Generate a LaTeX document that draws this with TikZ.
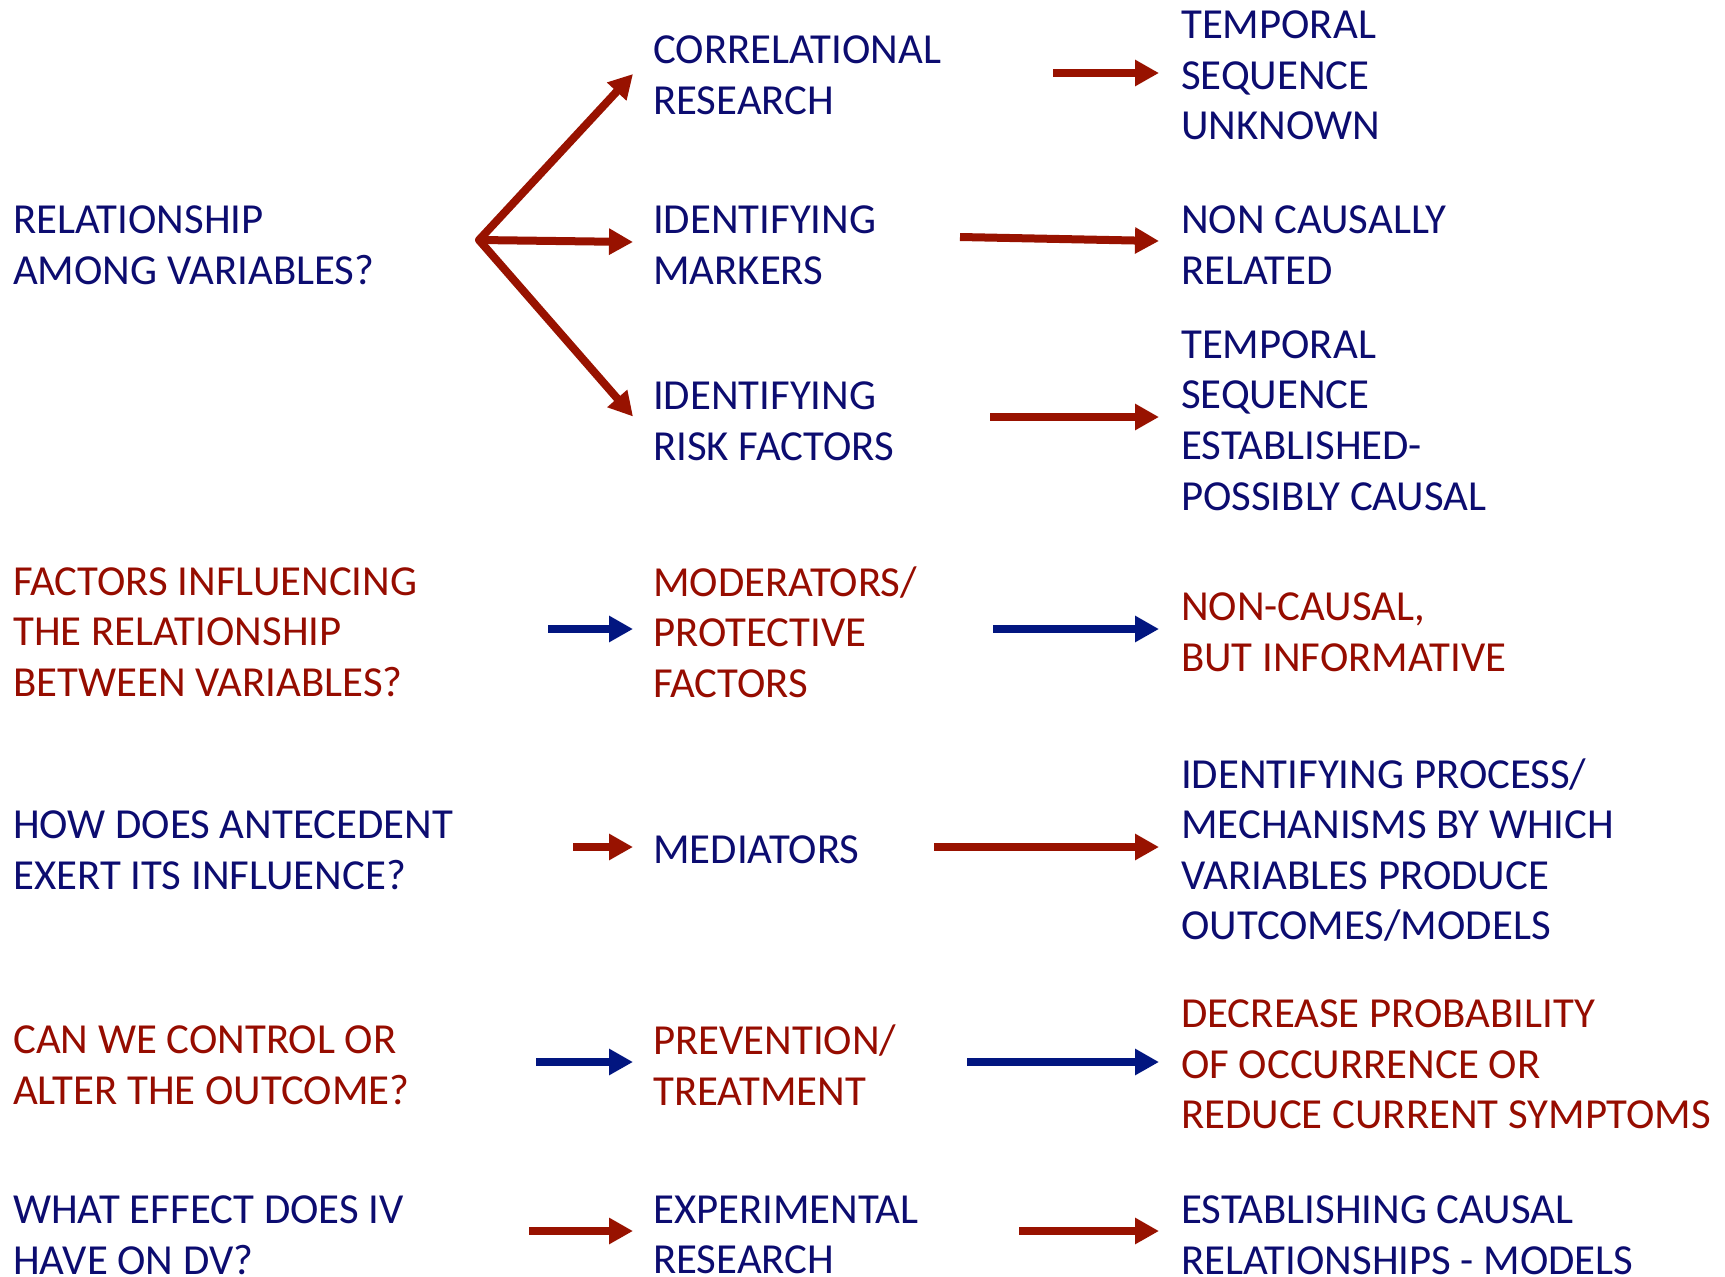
\documentclass[tikz,border=0pt]{standalone}
\usepackage{fontspec}
\setmainfont{Carlito}
\usetikzlibrary{arrows.meta}
\definecolor{navytxt}{RGB}{12,12,112}
\definecolor{redtxt}{RGB}{150,12,0}
\definecolor{arrred}{RGB}{152,18,0}
\definecolor{arrblue}{RGB}{2,22,128}
\tikzset{
  txt/.style={inner sep=0pt, anchor=west, align=left, font=\fontsize{42.8}{50.6}\selectfont},
  bl/.style={txt, text=navytxt},
  rd/.style={txt, text=redtxt},
  arr/.style={line width=8pt, -{Triangle[length=24pt,width=25pt]}},
  arrR/.style={arr, draw=arrred},
  arrB/.style={arr, draw=arrblue},
  toC/.style={shorten >=20pt},
  toR/.style={shorten >=22pt}
}
\begin{document}
\begin{tikzpicture}[x=1pt,y=-1pt]
\useasboundingbox (0,0) rectangle (1725,1277);
% row 1
\node[bl] (L1) at (13,245) {RELATIONSHIP\\AMONG VARIABLES?};
\node[bl] (C1a) at (653,75.5) {CORRELATIONAL\\RESEARCH};
\node[bl] (C1b) at (653,245) {IDENTIFYING\\MARKERS};
\node[bl] (C1c) at (653,421.5) {IDENTIFYING\\RISK FACTORS};
\node[bl] (R1a) at (1181,75.5) {TEMPORAL\\SEQUENCE\\UNKNOWN};
\node[bl] (R1b) at (1181,245) {NON CAUSALLY\\RELATED};
\node[bl] (R1c) at (1181,420.5) {TEMPORAL\\SEQUENCE\\ESTABLISHED-\\POSSIBLY CAUSAL};
% row 2
\node[rd] (L2) at (13,632) {FACTORS INFLUENCING\\THE RELATIONSHIP\\BETWEEN VARIABLES?};
\node[rd] (C2) at (653,632) {MODERATORS/\\PROTECTIVE\\FACTORS};
\node[rd] (R2) at (1181,632.5) {NON-CAUSAL,\\BUT INFORMATIVE};
% row 3
\node[bl] (L3) at (13,850.5) {HOW DOES ANTECEDENT\\EXERT ITS INFLUENCE?};
\node[bl] (C3) at (653,850) {MEDIATORS};
\node[bl] (R3) at (1181,850) {IDENTIFYING PROCESS/\\MECHANISMS BY WHICH\\VARIABLES PRODUCE\\OUTCOMES/MODELS};
% row 4
\node[rd] (L4) at (13,1065) {CAN WE CONTROL OR\\ALTER THE OUTCOME?};
\node[rd] (C4) at (653,1065) {PREVENTION/\\TREATMENT};
\node[rd] (R4) at (1181,1064.5) {DECREASE PROBABILITY\\OF OCCURRENCE OR\\REDUCE CURRENT SYMPTOMS};
% row 5
\node[bl] (L5) at (13,1235) {WHAT EFFECT DOES IV\\HAVE ON DV?};
\node[bl] (C5) at (653,1235) {EXPERIMENTAL\\RESEARCH};
\node[bl] (R5) at (1181,1235) {ESTABLISHING CAUSAL\\RELATIONSHIPS - MODELS};
% arrow start points
\coordinate (fan) at (479,240);
\coordinate (s1a) at (1053,73);
\coordinate (s1b) at (960,237);
\coordinate (s1c) at (990,417);
\coordinate (s2a) at (548,629);
\coordinate (s2b) at (993,629);
\coordinate (s3a) at (573,847);
\coordinate (s3b) at (934,847);
\coordinate (s4a) at (536,1062);
\coordinate (s4b) at (967,1062);
\coordinate (s5a) at (529,1231);
\coordinate (s5b) at (1019,1231);
% row 1 arrows
\draw[arrR, line cap=round] (fan) -- ([xshift=-20pt,yshift=1.5pt]C1a.west);
\draw[arrR] (fan) -- ([xshift=-20pt,yshift=3pt]C1b.west);
\draw[arrR, line cap=round] (fan) -- ([xshift=-20pt,yshift=5pt]C1c.west);
\draw[arrR, toR] (s1a) -- (s1a -| R1a.west);
\draw[arrR] (s1b) -- ([xshift=-22pt,yshift=4pt]R1b.west);
\draw[arrR, toR] (s1c) -- (s1c -| R1c.west);
% rows 2-5
\draw[arrB, toC] (s2a) -- (s2a -| C2.west);
\draw[arrB, toR] (s2b) -- (s2b -| R2.west);
\draw[arrR, toC] (s3a) -- (s3a -| C3.west);
\draw[arrR, toR] (s3b) -- (s3b -| R3.west);
\draw[arrB, toC] (s4a) -- (s4a -| C4.west);
\draw[arrB, toR] (s4b) -- (s4b -| R4.west);
\draw[arrR, toC] (s5a) -- (s5a -| C5.west);
\draw[arrR, toR] (s5b) -- (s5b -| R5.west);
\end{tikzpicture}
\end{document}
